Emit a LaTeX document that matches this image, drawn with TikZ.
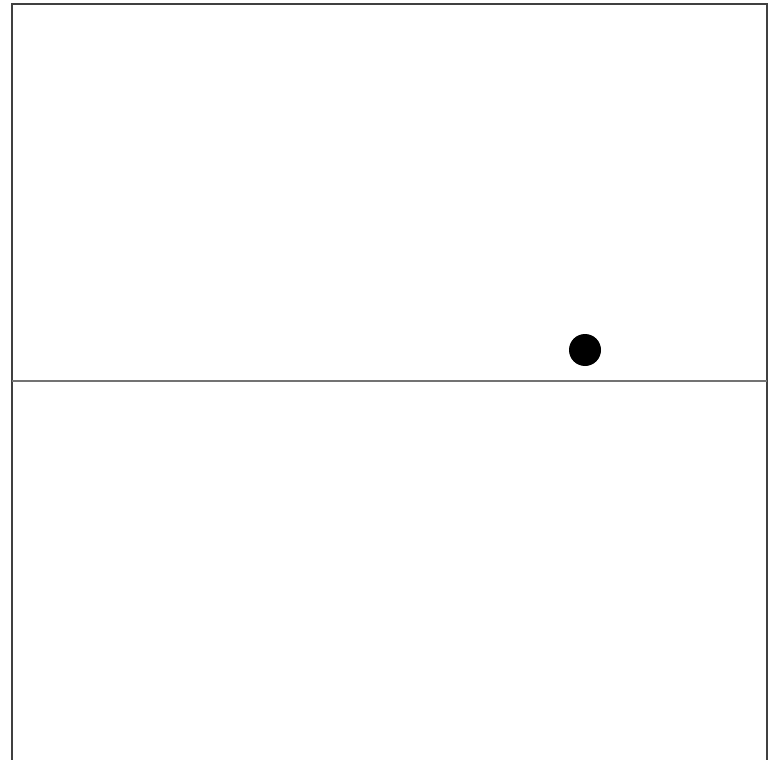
\documentclass[tikz,border=0pt]{standalone}
\begin{document}
\begin{tikzpicture}[x=1pt,y=-1pt,
  frame/.style={draw=black!75,line width=2pt},
  divider/.style={draw=black!55,line width=2pt},
  ball/.style={circle,fill=black,inner sep=0pt,minimum size=32pt}]
\useasboundingbox (0,0) rectangle (775,759);
\fill[white] (0,0) rectangle (775,759);
\draw[frame] (12,760) -- (12,4) -- (767,4) -- (767,760);
\coordinate (l) at (12,380.5);
\coordinate (r) at (767,380.5);
\draw[divider] (l) -- (r);
\node[ball] (dot) at (585,350) {};
\end{tikzpicture}
\end{document}
